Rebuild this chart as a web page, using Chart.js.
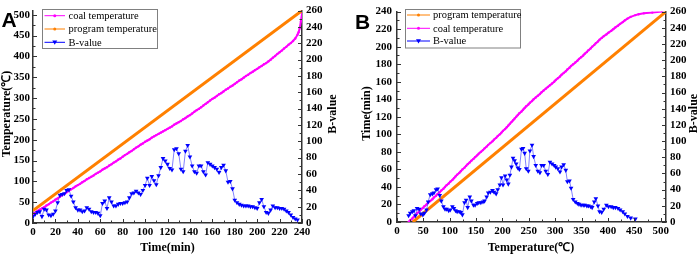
<!DOCTYPE html>
<html>
<head>
<meta charset="utf-8">
<script src="https://cdn.jsdelivr.net/npm/chart.js@4.4.0/dist/chart.umd.min.js"></script>
<style>
    body { margin: 0; background: #fff; width: 699px; height: 255px; overflow: hidden; position: relative; }
    canvas { position: absolute; top: 0; }
    #chartA { left: 0; }
    #chartB { left: 345px; }
</style>
</head>
<body>
<canvas id="chartA" width="345" height="255"></canvas>
<canvas id="chartB" width="354" height="255"></canvas>
<script>
// sample times (min)
const timeMin = [0,2,4,6,8,10,12,14,16,18,20,22,24,26,28,30,32,34,36,38,40,42,44,46,48,50,52,54,56,58,
    60,62,64,66,68,70,72,74,76,78,80,82,84,86,88,90,92,94,96,98,100,102,104,106,108,110,112,114,116,118,
    120,122,124,126,128,130,132,134,136,138,140,142,144,146,148,150,152,154,156,158,160,162,164,166,168,170,172,174,176,178,
    180,182,184,186,188,190,192,194,196,198,200,202,204,206,208,210,212,214,216,218,220,222,224,226,228,230,232,234,236,
    237,238,239,240];

// coal temperature (℃) at each sample time
const coalTemp = [22,25,29,32,35,38,42,45,49,52,56,59,63,67,70,74,77,81,84,88,91,94,98,101,105,108,111,114,118,121,
    124,128,131,134,138,141,145,148,152,155,159,163,166,170,173,177,181,184,188,191,195,198,201,205,208,211,214,217,220,223,
    226,229,232,236,239,242,245,249,252,256,259,263,267,271,274,278,282,286,290,294,298,301,305,309,312,316,320,323,327,330,
    334,338,342,345,349,353,356,360,363,367,370,374,377,381,384,388,392,397,401,406,410,414,419,423,428,432,437,443,452,
    458,468,484,503];

// B-value at each sample time (0 .. 236 min)
const bValue = [8,11,13,14,8,17,16,10,9,11,15,25,34,35,36,40,41,33,26,19,16,16,14,15,19,17,14,13,13,12,
    9,24,27,18,31,26,21,21,23,24,24,25,26,31,36,37,39,37,35,40,46,55,46,57,52,47,58,68,79,76,
    72,67,65,90,91,85,66,63,88,95,81,70,63,61,70,70,63,59,74,72,70,68,66,62,68,71,64,50,51,42,
    28,25,23,22,21,21,21,20,20,19,18,25,29,20,13,12,16,21,19,19,18,18,17,15,13,10,7,5,4];

// program temperature
const progTime = [0, 240];
const progTemp = [30, 510];

const COAL = '#ff00ff';
const PROG = '#ff8000';
const BLUE = '#0000ff';
const SERIF = "'Liberation Serif', 'Times New Roman', serif";

Chart.defaults.font.family = SERIF;

// inward major/minor ticks, axis titles, panel letter
const axisDeco = {
    id: 'axisDeco',
    afterDraw(chart, args, opts) {
        const ctx = chart.ctx;
        const a = chart.chartArea;
        ctx.save();
        ctx.strokeStyle = '#333';
        ctx.lineWidth = 1;
        Object.values(chart.scales).forEach(s => {
            const step = s.options.ticks.stepSize / 2;
            let k = 0;
            for (let v = s.min; v <= s.max + 1e-6; v += step, k++) {
                const len = k % 2 === 0 ? 4 : 2.5;
                const p = Math.round(s.getPixelForValue(v)) + 0.5;
                ctx.beginPath();
                if (s.axis === 'x') {
                    ctx.moveTo(p, a.bottom);
                    ctx.lineTo(p, a.bottom - len);
                } else if (s.position === 'left') {
                    ctx.moveTo(a.left, p);
                    ctx.lineTo(a.left + len, p);
                } else {
                    ctx.moveTo(a.right, p);
                    ctx.lineTo(a.right - len, p);
                }
                ctx.stroke();
            }
        });

        ctx.fillStyle = '#000';
        ctx.font = 'bold 12px ' + SERIF;
        ctx.textAlign = 'center';
        ctx.textBaseline = 'middle';
        ctx.fillText(opts.xTitle.text, opts.xTitle.x, opts.xTitle.y);
        [opts.yTitle, opts.y2Title].forEach(t => {
            ctx.save();
            ctx.translate(t.x, t.y);
            ctx.rotate(-Math.PI / 2);
            ctx.fillText(t.text, 0, 0);
            ctx.restore();
        });

        ctx.font = 'bold 21px "Liberation Sans", Arial, sans-serif';
        ctx.textAlign = 'left';
        ctx.textBaseline = 'alphabetic';
        ctx.fillText(opts.letter.text, opts.letter.x, opts.letter.y);
        ctx.restore();
    }
};

function drawMarker(ctx, kind, x, y, color) {
    ctx.fillStyle = color;
    ctx.beginPath();
    if (kind === 'tri') {
        ctx.moveTo(x - 2.5, y - 1.8);
        ctx.lineTo(x + 2.5, y - 1.8);
        ctx.lineTo(x, y + 2.4);
        ctx.closePath();
    } else {
        ctx.arc(x, y, 1.5, 0, Math.PI * 2);
    }
    ctx.fill();
}

// legend: box with line + marker + label
const legendBox = {
    id: 'legendBox',
    afterDraw(chart, args, opts) {
        const ctx = chart.ctx;
        ctx.save();
        ctx.strokeStyle = '#808080';
        ctx.lineWidth = 1;
        ctx.strokeRect(opts.x + 0.5, opts.y + 0.5, opts.w, opts.h);
        ctx.font = '10.5px ' + SERIF;
        ctx.textBaseline = 'middle';
        ctx.textAlign = 'left';
        opts.items.forEach((it, i) => {
            const y = opts.y + opts.rows[i];
            ctx.strokeStyle = it.color;
            ctx.lineWidth = 1;
            ctx.beginPath();
            ctx.moveTo(opts.x + opts.lineFrom, y);
            ctx.lineTo(opts.x + opts.lineTo, y);
            ctx.stroke();
            drawMarker(ctx, it.marker, opts.x + (opts.lineFrom + opts.lineTo) / 2, y, it.color);
            ctx.fillStyle = '#000';
            ctx.fillText(it.text, opts.x + opts.textX, y + 0.5);
        });
        ctx.restore();
    }
};

function tickFont() {
    return { family: SERIF, weight: 'bold', size: 11 };
}

function axis(position, min, max, step, size, pad) {
    const horiz = position === 'bottom';
    return {
        type: 'linear',
        position: position,
        min: min,
        max: max,
        grid: { display: true, drawOnChartArea: false, drawTicks: false },
        border: { display: true, color: '#333', width: 1.5 },
        ticks: {
            stepSize: step,
            includeBounds: false,
            autoSkip: false,
            maxRotation: 0,
            padding: pad,
            color: '#000',
            font: tickFont()
        },
        afterFit: s => {
            if (horiz) s.height = size; else s.width = size;
        }
    };
}

function lineSet(label, pts, color, width, axisId, order) {
    return {
        label: label,
        data: pts,
        yAxisID: axisId,
        borderColor: color,
        backgroundColor: color,
        borderWidth: width,
        pointRadius: 1.2,
        pointHoverRadius: 0,
        pointBorderWidth: 0,
        tension: 0,
        order: order
    };
}

function bSet(pts) {
    return {
        label: 'B-value',
        data: pts,
        yAxisID: 'y2',
        borderColor: 'rgba(60,60,255,0.8)',
        backgroundColor: BLUE,
        borderWidth: 0.8,
        pointStyle: 'triangle',
        rotation: 180,
        pointRadius: 2.7,
        pointBorderWidth: 0,
        pointHoverRadius: 0,
        tension: 0,
        order: 0
    };
}

// panel A: everything against time
const coalPtsA = timeMin.map((t, i) => ({ x: t, y: coalTemp[i] }));
const progPtsA = progTime.map((t, i) => ({ x: t, y: progTemp[i] }));
const bPtsA = bValue.map((b, i) => ({ x: timeMin[i], y: b }));

new Chart(document.getElementById('chartA'), {
    type: 'line',
    data: {
        datasets: [
            lineSet('coal temperature', coalPtsA, COAL, 2, 'y', 2),
            Object.assign(lineSet('program temperature', progPtsA, PROG, 3, 'y', 1), { pointRadius: 0 }),
            bSet(bPtsA)
        ]
    },
    options: {
        responsive: false,
        animation: false,
        devicePixelRatio: 1,
        layout: { padding: { top: 6, left: 0, right: 0, bottom: 0 } },
        scales: {
            x: axis('bottom', 0, 240, 20, 32, 3),
            y: axis('left', 0, 510, 50, 33, 3),
            y2: axis('right', 0, 260, 20, 43, 4)
        },
        plugins: {
            legend: { display: false },
            tooltip: { enabled: false },
            axisDeco: {
                xTitle: { text: 'Time(min)', x: 167.5, y: 248 },
                yTitle: { text: 'Temperature(℃)', x: 6.5, y: 114 },
                y2Title: { text: 'B-value', x: 333, y: 114 },
                letter: { text: 'A', x: 1.5, y: 27 }
            },
            legendBox: {
                x: 42, y: 9, w: 115, h: 39,
                rows: [6.7, 20, 33.3],
                lineFrom: 2.5, lineTo: 23, textX: 26.5,
                items: [
                    { text: 'coal temperature', color: COAL, marker: 'dot' },
                    { text: 'program temperature', color: PROG, marker: 'dot' },
                    { text: 'B-value', color: BLUE, marker: 'tri' }
                ]
            }
        }
    },
    plugins: [axisDeco, legendBox]
});

// panel B: time and B-value against coal temperature
const coalPtsB = timeMin.map((t, i) => ({ x: coalTemp[i], y: t }));
const progPtsB = progTime.map((t, i) => ({ x: progTemp[i], y: t }));
const bPtsB = bValue.map((b, i) => ({ x: coalTemp[i], y: b }));

new Chart(document.getElementById('chartB'), {
    type: 'line',
    data: {
        datasets: [
            Object.assign(lineSet('program temperature', progPtsB, PROG, 3, 'y', 2), { pointRadius: 0 }),
            lineSet('coal temperature', coalPtsB, COAL, 2, 'y', 1),
            bSet(bPtsB)
        ]
    },
    options: {
        responsive: false,
        animation: false,
        devicePixelRatio: 1,
        layout: { padding: { top: 5, left: 0, right: 0, bottom: 0 } },
        scales: {
            x: axis('bottom', 0, 510, 50, 33, 3),
            y: axis('left', 0, 240, 20, 52, 5),
            y2: axis('right', 0, 260, 20, 33, 4)
        },
        plugins: {
            legend: { display: false },
            tooltip: { enabled: false },
            axisDeco: {
                xTitle: { text: 'Temperature(℃)', x: 186, y: 248 },
                yTitle: { text: 'Time(min)', x: 22, y: 113.5 },
                y2Title: { text: 'B-value', x: 349, y: 113.5 },
                letter: { text: 'B', x: 10, y: 28.5 }
            },
            legendBox: {
                x: 60, y: 9, w: 115, h: 38.5,
                rows: [6, 19.3, 32],
                lineFrom: 2, lineTo: 25, textX: 28,
                items: [
                    { text: 'program temperature', color: PROG, marker: 'dot' },
                    { text: 'coal temperature', color: COAL, marker: 'dot' },
                    { text: 'B-value', color: BLUE, marker: 'tri' }
                ]
            }
        }
    },
    plugins: [axisDeco, legendBox]
});
</script>
</body>
</html>
